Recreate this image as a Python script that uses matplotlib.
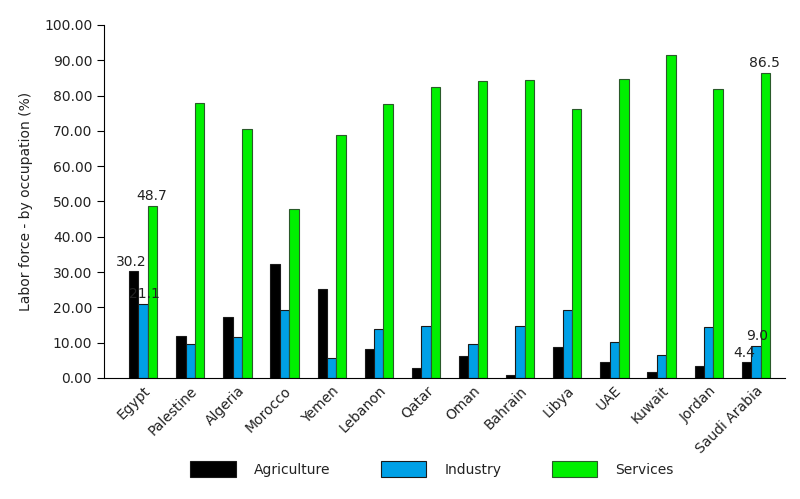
import matplotlib
matplotlib.use("Agg")
import matplotlib.pyplot as plt
import numpy as np

countries = ["Egypt", "Palestine", "Algeria", "Morocco", "Yemen", "Lebanon", "Qatar",
             "Oman", "Bahrain", "Libya", "UAE", "Kuwait", "Jordan", "Saudi Arabia"]
agriculture = [30.2, 11.9, 17.4, 32.3, 25.2, 8.2, 2.8, 6.3, 0.8, 8.8, 4.4, 1.7, 3.3, 4.4]
industry = [21.1, 9.7, 11.6, 19.2, 5.8, 13.8, 14.6, 9.5, 14.7, 19.3, 10.3, 6.5, 14.4, 9.0]
services = [48.7, 77.8, 70.5, 47.9, 68.9, 77.6, 82.3, 84.0, 84.3, 76.2, 84.6, 91.6, 81.9, 86.5]
yticks = [0, 10, 20, 30, 40, 50, 60, 70, 80, 90, 100]

plt.rcParams['font.family'] = ['DejaVu Sans']
txt = '#222222'
fig = plt.figure(figsize=(8.0, 4.99), dpi=100)
ax = fig.add_axes([0.13, 0.2425, 0.851, 0.7075])

x = np.arange(len(countries))
w = 0.2
ec = '#1a1a1a'
b1 = ax.bar(x - w, agriculture, w, color='#000000', edgecolor=ec, linewidth=0.8, label='Agriculture')
b2 = ax.bar(x, industry, w, color='#00A0E6', edgecolor=ec, linewidth=0.8, label='Industry')
b3 = ax.bar(x + w, services, w, color='#00F000', edgecolor='#2a5a2a', linewidth=0.8, label='Services')

fs = 10
# data labels for Egypt and Saudi Arabia
for i in [0, len(countries) - 1]:
    ax.text(x[i] - w - 0.05, agriculture[i] + 0.8, f"{agriculture[i]:.1f}", ha='center', va='bottom', fontsize=fs, color=txt)
    ax.text(x[i] + 0.02, industry[i] + 0.8, f"{industry[i]:.1f}", ha='center', va='bottom', fontsize=fs, color=txt)
    ax.text(x[i] + w - 0.02, services[i] + 0.8, f"{services[i]:.1f}", ha='center', va='bottom', fontsize=fs, color=txt)

ax.set_ylim(0, 100)
ax.set_xlim(-0.83, 13.615)
ax.set_yticks(yticks)
ax.set_yticklabels([f"{v:.2f}" for v in yticks], fontsize=fs, color=txt)
ax.set_xticks(x)
ax.set_xticklabels(countries, rotation=45, ha='right', rotation_mode='anchor', fontsize=fs, color=txt)
ax.tick_params(axis='x', length=0, pad=4)
ax.tick_params(axis='y', length=5, direction='out', width=0.8)
ax.spines['top'].set_visible(False)
ax.spines['right'].set_visible(False)
ax.set_ylabel("Labor force - by occupation (%)", fontsize=fs, labelpad=8, color=txt)

leg = fig.legend(handles=[b1, b2, b3], labels=['Agriculture', 'Industry', 'Services'],
                 loc='center', bbox_to_anchor=(0.54, 0.06), ncol=3, frameon=False,
                 handlelength=3.3, handleheight=1.4, handletextpad=1.3, columnspacing=3.6,
                 fontsize=fs)
for t in leg.get_texts():
    t.set_color(txt)

fig.savefig("out.png", dpi=100)
